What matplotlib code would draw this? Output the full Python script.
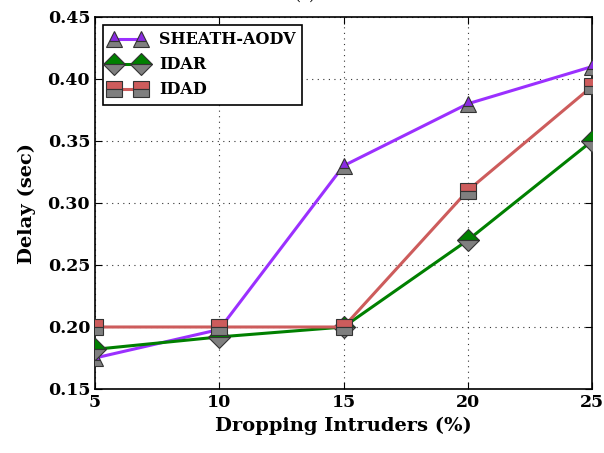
import matplotlib
matplotlib.use("Agg")
import matplotlib.pyplot as plt

x = [5, 10, 15, 20, 25]
sheath = [0.175, 0.198, 0.330, 0.380, 0.410]
idar = [0.182, 0.192, 0.200, 0.270, 0.350]
idad = [0.200, 0.200, 0.200, 0.310, 0.394]
labels = ["SHEATH-AODV", "IDAR", "IDAD"]
xticks = [5, 10, 15, 20, 25]
yticks = [0.15, 0.20, 0.25, 0.30, 0.35, 0.40, 0.45]

plt.rcParams['font.family'] = ['DejaVu Serif']
plt.rcParams['font.weight'] = 'bold'

fig = plt.figure(figsize=(6.04, 4.53), dpi=100)
ax = fig.add_axes([95/604, 1-389/453, (592-95)/604, (389-17)/453])

common = dict(fillstyle='top', markerfacecoloralt='#7f7f7f', markeredgecolor='#333333',
              markeredgewidth=0.8, lw=2.2)
ax.plot(x, sheath, color='#9b30ff', marker='^', markerfacecolor='#8a2be2', markersize=12,
        label=labels[0], zorder=5, **common)
ax.plot(x, idar, color='#008000', marker='D', markerfacecolor='#008000', markersize=11,
        label=labels[1], zorder=5, **common)
ax.plot(x, idad, color='#cd5c5c', marker='s', markerfacecolor='#cd5c5c', markersize=11,
        label=labels[2], zorder=5, **common)

ax.set_xlim(5, 25)
ax.set_ylim(0.15, 0.45)
ax.set_xticks(xticks)
ax.set_yticks(yticks)
ax.set_yticklabels([f"{v:.2f}" for v in yticks])
ax.tick_params(direction='in', top=True, right=True, labelsize=12.5, length=5)
for lab in ax.get_xticklabels() + ax.get_yticklabels():
    lab.set_fontweight('bold')
ax.grid(True, color='#333333', linestyle=(0, (1, 4)), linewidth=0.8)
ax.set_axisbelow(True)
for s in ax.spines.values():
    s.set_linewidth(1.2)

ax.set_xlabel("Dropping Intruders (%)", fontsize=14, fontweight='bold', labelpad=4)
ax.set_ylabel("Delay (sec)", fontsize=14, fontweight='bold', labelpad=8)

leg = ax.legend(loc='upper left', numpoints=2, fancybox=False, edgecolor='black',
                prop={'weight': 'bold', 'size': 11.5}, handlelength=2.3,
                labelspacing=0.5, borderaxespad=0.5, borderpad=0.4, handletextpad=0.8)
leg.get_frame().set_linewidth(1.2)
leg.get_frame().set_alpha(1)

fig.text(305/604, 1 - 3/453, "(a)", ha='center', va='bottom', fontsize=11, fontweight='normal')

fig.savefig("out.png", dpi=100)
